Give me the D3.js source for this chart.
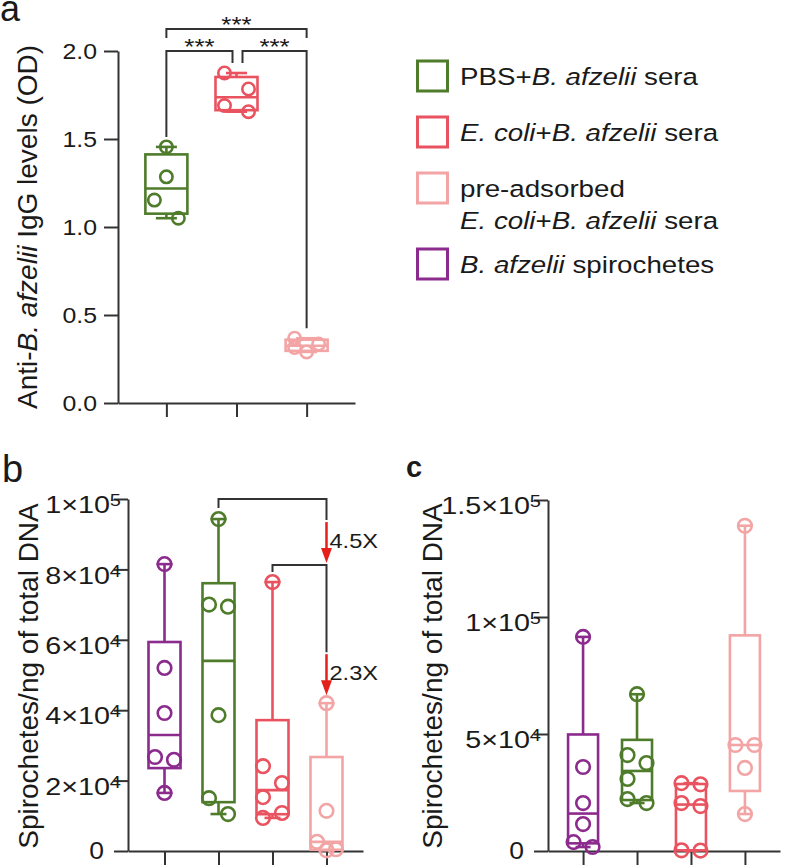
<!DOCTYPE html>
<html><head><meta charset="utf-8">
<script src="https://cdn.jsdelivr.net/npm/d3@7/dist/d3.min.js"></script>
<style>
body{margin:0;background:#fff}
svg{display:block}
text{font-family:"Liberation Sans",Arial,Helvetica,sans-serif;fill:#1a1a1a}
</style>
</head><body>
<svg id="chart" width="786" height="868"></svg>
<script>
// ---------------- DATA ----------------
const groupsA = ["PBS+B. afzelii sera", "E. coli+B. afzelii sera", "pre-adsorbed E. coli+B. afzelii sera"];
const groupsBC = ["B. afzelii spirochetes", "PBS+B. afzelii sera", "E. coli+B. afzelii sera", "pre-adsorbed E. coli+B. afzelii sera"];
const legendLabels = ["PBS+B. afzelii sera", "E. coli+B. afzelii sera", "pre-adsorbed\nE. coli+B. afzelii sera", "B. afzelii spirochetes"];
const legendGroups = ["PBS+B. afzelii sera", "E. coli+B. afzelii sera", "pre-adsorbed E. coli+B. afzelii sera", "B. afzelii spirochetes"];
const groupColors = ["#4f7c2b", "#e9535f", "#f3a4a4", "#8b2b8d"]; // same order as legendGroups

// panel a: anti-B. afzelii IgG (OD)
const valuesA = [
  [1.455, 1.285, 1.153, 1.05],
  [1.875, 1.784, 1.69, 1.655],
  [0.368, 0.335, 0.315, 0.29]
];
// panel b: spirochetes / ng DNA
const valuesB = [
  [81500, 52000, 39200, 26700, 25900, 16500],
  [94300, 70000, 69400, 38600, 15000, 10500],
  [76400, 24100, 19300, 15300, 10800, 9400],
  [42000, 11400, 2600, 500, 200]
];
// panel c: spirochetes / ng DNA
const valuesC = [
  [91500, 35900, 20500, 11500, 3800, 1700],
  [67000, 41000, 37600, 30800, 22200, 20500],
  [29000, 28500, 20500, 19200, 300, 200],
  [139000, 45300, 45300, 35500, 15800]
];
const ticksA = [0, 0.5, 1.0, 1.5, 2.0];
const tickLabelsA = ["0.0", "0.5", "1.0", "1.5", "2.0"];
const ticksB = [0, 20000, 40000, 60000, 80000, 100000];
const tickLabelsB = ["0", "2×10^4", "4×10^4", "6×10^4", "8×10^4", "1×10^5"];
const ticksC = [0, 50000, 100000, 150000];
const tickLabelsC = ["0", "5×10^4", "1×10^5", "1.5×10^5"];
const sigA = [{from: 0, to: 1, label: "***"}, {from: 1, to: 2, label: "***"}, {from: 0, to: 2, label: "***"}];
const foldB = [{from: 1, to: 3, label: "4.5X"}, {from: 2, to: 3, label: "2.3X"}];
const yTitleA = "Anti-B. afzelii IgG levels (OD)";
const yTitleBC = "Spirochetes/ng of total DNA";

// ---------------- HELPERS ----------------
const SX = 1.18;
const AX = "#333333";
const color = g => groupColors[legendGroups.indexOf(g)];
const svg = d3.select("#chart");

function addParts(t, str) {
  str.split(/(E\. coli|B\. afzelii)/).forEach((p, i) => {
    if (!p) return;
    const ts = t.append("tspan").text(p);
    if (i % 2 === 1) ts.style("font-style", "italic");
  });
}
function hText(x, y, str, size, anchor, rich, sx) {
  const t = svg.append("text")
    .attr("transform", `translate(${x},${y}) scale(${sx || SX},1)`)
    .attr("text-anchor", anchor || "start")
    .style("font-size", size + "px");
  if (rich) addParts(t, str); else t.text(str);
  return t;
}
function quant(s, p) { // Prism-style (n+1)p
  const n = s.length, pos = (n + 1) * p;
  if (pos <= 1) return s[0];
  if (pos >= n) return s[n - 1];
  const lo = Math.floor(pos), f = pos - lo;
  return s[lo - 1] + f * (s[lo] - s[lo - 1]);
}
function swarm(vals, y, T, w) {
  const idx = vals.map((v, i) => i).sort((a, b) => vals[b] - vals[a]);
  const off = new Array(vals.length).fill(0);
  for (let k = 1; k < idx.length; k++) {
    const i = idx[k], p = idx[k - 1];
    if (Math.abs(y(vals[i]) - y(vals[p])) < T) {
      if (off[p] === 0) { off[p] = -w; off[i] = w; }
      else off[i] = -off[p];
      if (k >= 2) {
        const pp = idx[k - 2];
        if (Math.abs(y(vals[i]) - y(vals[pp])) < T * 0.7 && off[pp] === off[i]) off[i] = 0;
      }
    }
  }
  return off;
}
function drawBoxes(values, groups, x, y, boxW, r, T, w) {
  values.forEach((vals, i) => {
    const s = vals.slice().sort(d3.ascending);
    const st = {min: s[0], q1: quant(s, .25), med: quant(s, .5), q3: quant(s, .75), max: s[s.length - 1]};
    const cx = x(i), col = color(groups[i]);
    const g = svg.append("g").attr("stroke", col).attr("stroke-width", 2.6).attr("fill", "none");
    g.append("line").attr("x1", cx).attr("x2", cx).attr("y1", y(st.max)).attr("y2", y(st.q3));
    g.append("line").attr("x1", cx).attr("x2", cx).attr("y1", y(st.q1)).attr("y2", y(st.min));
    [st.max, st.min].forEach(v => g.append("line").attr("x1", cx - boxW / 4).attr("x2", cx + boxW / 4).attr("y1", y(v)).attr("y2", y(v)));
    g.append("rect").attr("x", cx - boxW / 2).attr("y", y(st.q3)).attr("width", boxW).attr("height", y(st.q1) - y(st.q3));
    g.append("line").attr("x1", cx - boxW / 2).attr("x2", cx + boxW / 2).attr("y1", y(st.med)).attr("y2", y(st.med));
    const off = swarm(vals, y, T, w);
    g.selectAll("circle").data(vals).join("circle")
      .attr("cx", (d, k) => cx + off[k]).attr("cy", d => y(d)).attr("r", r);
  });
}
function drawAxes(x, y, n, ticks, labels, expo) {
  const x0 = x.range()[0];
  const gy = svg.append("g").attr("transform", `translate(${x0},0)`)
    .call(d3.axisLeft(y).tickValues(ticks).tickSize(14).tickSizeOuter(0).tickFormat(""));
  const y0 = y.range()[0];
  const gx = svg.append("g").attr("transform", `translate(0,${y0})`)
    .call(d3.axisBottom(x).tickValues(d3.range(n)).tickSize(14).tickSizeOuter(0).tickFormat(""));
  [gx, gy].forEach(g => {
    g.selectAll("path,line").attr("stroke", AX).attr("stroke-width", 2);
  });
  ticks.forEach((v, i) => {
    const lab = labels[i];
    if (lab.includes("^")) {
      const [base, ex] = lab.split("^");
      const t = hText(x0 - 7, y(v) + 6, "", 23, "end", false, 1.25).attr("dy", "0.36em");
      t.append("tspan").text(base);
      t.append("tspan").text(ex).attr("dy", -7).style("font-size", "16px");
    } else {
      hText(x0 - (expo ? 24 : 21), y(v), lab, expo ? 23 : 22, "end", false, expo ? 1.15 : 1.13).attr("dy", "0.36em");
    }
  });
}
function yTitle(x, y, str, size) {
  const t = svg.append("text").attr("transform", `translate(${x},${y}) rotate(-90)`)
    .attr("text-anchor", "middle").style("font-size", size + "px");
  addParts(t, str);
}
const bracketPath = (x1, x2, yTop, l1, l2) => `M${x1},${yTop + l1}V${yTop}H${x2}V${yTop + l2}`;

// ---------------- PANEL A ----------------
const yA = d3.scaleLinear().domain([0, 2]).range([403, 51]);
const xA = d3.scalePoint().domain(d3.range(groupsA.length)).range([118, 355]).padding(0.69);
drawAxes(xA, yA, groupsA.length, ticksA, tickLabelsA, false);
drawBoxes(valuesA, groupsA, xA, yA, 42, 6.2, 20, 12);
yTitle(37, 227, yTitleA, 28);
// significance brackets
(function () {
  const maxA = valuesA.map(v => d3.max(v));
  const yLow = yA(2.0), yTop = yLow - 22;
  sigA.forEach(s => {
    if (s.to - s.from === 1) {
      const x1 = xA(s.from) + (s.from === 1 ? 6 : 0);
      const x2 = xA(s.to) - (s.to === 1 ? 4 : 0);
      svg.append("path").attr("d", bracketPath(x1, x2, yLow, yA(maxA[s.from]) - 10 - yLow, yA(maxA[s.to]) - 10 - yLow))
        .attr("fill", "none").attr("stroke", AX).attr("stroke-width", 2);
      hText((x1 + x2) / 2, yLow + 2.5, s.label, 22, "middle");
    } else {
      svg.append("path").attr("d", bracketPath(xA(s.from), xA(s.to), yTop, 9, 9))
        .attr("fill", "none").attr("stroke", AX).attr("stroke-width", 2);
      hText((xA(s.from) + xA(s.to)) / 2, yTop + 2.5, s.label, 22, "middle");
    }
  });
})();
svg.append("text").attr("x", 0).attr("y", 21).style("font-size", "36px").text("a");

// ---------------- LEGEND ----------------
(function () {
  let cy = 76;
  legendLabels.forEach((lab, i) => {
    const lines = lab.split("\n");
    svg.append("rect").attr("x", 417.5).attr("y", cy - 15).attr("width", 30).attr("height", 30)
      .attr("fill", "none").attr("stroke", color(legendGroups[i])).attr("stroke-width", 3);
    lines.forEach((ln, j) => hText(460, cy + 9 + j * 32, ln, 23.5, "start", true));
    cy += 56 + (lines.length - 1) * 20;
  });
})();

// ---------------- PANEL B ----------------
const yB = d3.scaleLinear().domain([0, 100000]).range([851, 499]);
const xB = d3.scalePoint().domain(d3.range(groupsBC.length)).range([128, 363]).padding(0.676);
drawAxes(xB, yB, groupsBC.length, ticksB, tickLabelsB, true);
drawBoxes(valuesB, groupsBC, xB, yB, 32, 6.8, 17, 9.5);
yTitle(38, 676, yTitleBC, 28);
svg.append("text").attr("x", 2).attr("y", 482).style("font-size", "38px").text("b");
// fold-change brackets with arrows
(function () {
  const maxB = valuesB.map(v => d3.max(v));
  const yTop1 = yB(100000);
  const yTop2 = yB(maxB[foldB[1].from]) - 17;
  const arrowEnds = [yTop2 - 2, yB(maxB[foldB[1].to]) - 8];
  const tops = [yTop1, yTop2];
  const leftLegs = [9, 7];
  foldB.forEach((f, i) => {
    const x1 = xB(f.from), x2 = xB(f.to);
    const aEnd = arrowEnds[i], aStart = aEnd - 41;
    svg.append("path").attr("d", bracketPath(x1, x2, tops[i], leftLegs[i], aStart - 2 - tops[i]))
      .attr("fill", "none").attr("stroke", AX).attr("stroke-width", 2);
    svg.append("line").attr("x1", x2).attr("x2", x2).attr("y1", aStart).attr("y2", aEnd - 12)
      .attr("stroke", "#e5201b").attr("stroke-width", 2.5);
    svg.append("path").attr("d", `M${x2 - 5.5},${aEnd - 15}L${x2 + 5.5},${aEnd - 15}L${x2},${aEnd}Z`).attr("fill", "#e5201b");
    hText(x2 + 3, (aStart + aEnd) / 2 - 2, f.label, 20, "start").attr("dy", "0.36em");
  });
})();

// ---------------- PANEL C ----------------
const yC = d3.scaleLinear().domain([0, 150000]).range([851, 500]);
const xC = d3.scalePoint().domain(d3.range(groupsBC.length)).range([548, 780]).padding(0.65);
drawAxes(xC, yC, groupsBC.length, ticksC, tickLabelsC, true);
drawBoxes(valuesC, groupsBC, xC, yC, 30, 6.8, 17, 9.5);
yTitle(442, 676, yTitleBC, 28);
svg.append("text").attr("x", 406).attr("y", 477).style("font-size", "29px").style("font-weight", "bold").text("c");
</script>
</body></html>
